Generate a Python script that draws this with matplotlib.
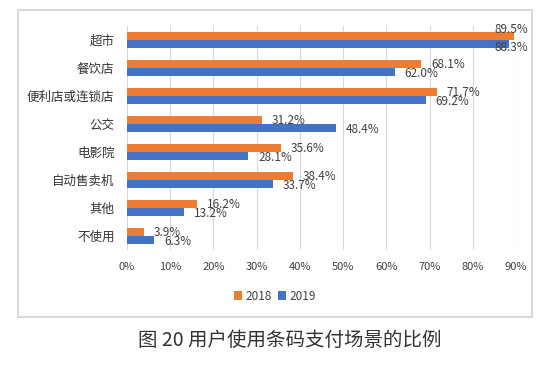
import numpy as np
import matplotlib
matplotlib.use("Agg")
import matplotlib.pyplot as plt
from matplotlib.patches import Rectangle
from matplotlib.ticker import FuncFormatter

plt.rcParams['font.family'] = ['Noto Sans CJK SC', 'DejaVu Sans']

categories = ["超市", "餐饮店", "便利店或连锁店", "公交", "电影院", "自动售卖机", "其他", "不使用"]
v2018 = [89.5, 68.1, 71.7, 31.2, 35.6, 38.4, 16.2, 3.9]
v2019 = [88.3, 62.0, 69.2, 48.4, 28.1, 33.7, 13.2, 6.3]
series_names = ["2018", "2019"]
xticks = [0, 10, 20, 30, 40, 50, 60, 70, 80, 90]
caption = "图 20 用户使用条码支付场景的比例"

c18 = "#ED7D31"
c19 = "#4472C4"

W, H = 550, 367
fig = plt.figure(figsize=(5.5, 3.67), dpi=100)
ax = fig.add_axes([127 / W, 1 - 250 / H, (516 - 127) / W, (250 - 26) / H])

y = np.arange(len(categories))
bh = 0.27
ax.barh(y - bh / 2, v2018, height=bh, color=c18, label=series_names[0], zorder=3)
ax.barh(y + bh / 2, v2019, height=bh, color=c19, label=series_names[1], zorder=3)

ax.set_xlim(0, 90)
ax.set_ylim(len(categories) - 0.5, -0.5)
ax.set_xticks(xticks)
ax.xaxis.set_major_formatter(FuncFormatter(lambda v, p: "%d%%" % v))
ax.set_yticks(y)
ax.set_yticklabels(categories, fontsize=9, color="#333333")
ax.tick_params(axis="x", length=0, pad=9, labelsize=8, labelcolor="#404040")
ax.tick_params(axis="y", length=0, pad=9)
ax.grid(axis="x", color="#d9d9d9", lw=0.8, zorder=0)
for s in ax.spines.values():
    s.set_visible(False)

# value labels (offsets in points, positive = up)
for i in range(len(categories)):
    for val, dy, up in [(v2018[i], -bh / 2, True), (v2019[i], bh / 2, False)]:
        txt = "%.1f%%" % val
        if val > 85:
            ax.annotate(txt, (90, i + dy), xytext=(9, 5 if up else -3), textcoords="offset points",
                        ha="right", va="center", fontsize=8.5, color="#404040", zorder=4,
                        annotation_clip=False)
        else:
            ax.annotate(txt, (val, i + dy), xytext=(7, 0 if up else -1), textcoords="offset points",
                        ha="left", va="center", fontsize=8.5, color="#404040", zorder=4)

leg = fig.legend(loc="center", bbox_to_anchor=(275 / W, 1 - 296 / H), ncol=2, frameon=False,
                 fontsize=8.5, handlelength=0.7, handleheight=0.7, handletextpad=0.3,
                 columnspacing=0.5)
for t in leg.get_texts():
    t.set_color("#404040")

fig.patches.append(Rectangle((18 / W, 1 - 317 / H), (532 - 18) / W, (317 - 10) / H,
                             transform=fig.transFigure, fill=False, edgecolor="#d9d9d9", lw=1.5))

fig.text(290 / W, 1 - 340 / H, caption, ha="center", va="center", fontsize=14,
         color="#333333", fontweight="light")

fig.savefig("out.png", dpi=100)
